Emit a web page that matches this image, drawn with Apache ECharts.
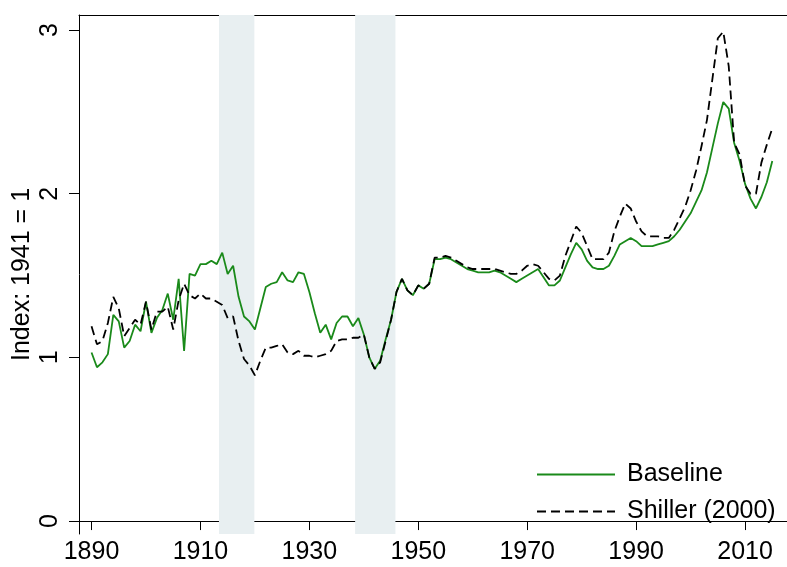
<!DOCTYPE html>
<html>
<head>
<meta charset="utf-8">
<script src="https://cdn.jsdelivr.net/npm/echarts@6/dist/echarts.min.js"></script>
<style>
  html, body { margin: 0; padding: 0; background: #fff; }
  #chart { width: 787px; height: 567px; }
</style>
</head>
<body>
<div id="chart"></div>
<script>
var years = [
  1890, 1891, 1892, 1893, 1894, 1895, 1896, 1897, 1898, 1899,
  1900, 1901, 1902, 1903, 1904, 1905, 1906, 1907, 1908, 1909,
  1910, 1911, 1912, 1913, 1914, 1915, 1916, 1917, 1918, 1919,
  1920, 1921, 1922, 1923, 1924, 1925, 1926, 1927, 1928, 1929,
  1930, 1931, 1932, 1933, 1934, 1935, 1936, 1937, 1938, 1939,
  1940, 1941, 1942, 1943, 1944, 1945, 1946, 1947, 1948, 1949,
  1950, 1951, 1952, 1953, 1954, 1955, 1956, 1957, 1958, 1959,
  1960, 1961, 1962, 1963, 1964, 1965, 1966, 1967, 1968, 1969,
  1970, 1971, 1972, 1973, 1974, 1975, 1976, 1977, 1978, 1979,
  1980, 1981, 1982, 1983, 1984, 1985, 1986, 1987, 1988, 1989,
  1990, 1991, 1992, 1993, 1994, 1995, 1996, 1997, 1998, 1999,
  2000, 2001, 2002, 2003, 2004, 2005, 2006, 2007, 2008, 2009,
  2010, 2011, 2012, 2013, 2014, 2015
];

var baseline = [
  1.03, 0.94, 0.97, 1.02, 1.26, 1.22, 1.06, 1.10, 1.20, 1.16,
  1.34, 1.15, 1.24, 1.29, 1.39, 1.23, 1.48, 1.04, 1.51, 1.50,
  1.57, 1.57, 1.59, 1.57, 1.64, 1.51, 1.56, 1.37, 1.25, 1.22,
  1.17, 1.30, 1.43, 1.45, 1.46, 1.52, 1.47, 1.46, 1.52, 1.51,
  1.40, 1.27, 1.15, 1.20, 1.11, 1.21, 1.25, 1.25, 1.19, 1.24,
  1.14, 1.00, 0.93, 0.98, 1.11, 1.23, 1.40, 1.48, 1.41, 1.38,
  1.44, 1.42, 1.45, 1.60, 1.60, 1.61, 1.60, 1.58, 1.56, 1.54,
  1.53, 1.52, 1.52, 1.52, 1.53, 1.52, 1.50, 1.48, 1.46, 1.48,
  1.50, 1.52, 1.54, 1.49, 1.44, 1.44, 1.47, 1.55, 1.63, 1.70,
  1.66, 1.59, 1.55, 1.54, 1.54, 1.56, 1.62, 1.69, 1.71, 1.73,
  1.71, 1.68, 1.68, 1.68, 1.69, 1.70, 1.71, 1.74, 1.78, 1.83,
  1.88, 1.95, 2.02, 2.13, 2.28, 2.43, 2.56, 2.52, 2.31, 2.20,
  2.06, 1.97, 1.91, 1.98, 2.07, 2.20
];

var shiller = [
  1.19, 1.08, 1.10, 1.21, 1.37, 1.30, 1.13, 1.18, 1.23, 1.20,
  1.34, 1.17, 1.28, 1.28, 1.31, 1.17, 1.35, 1.45, 1.38, 1.36,
  1.39, 1.36, 1.36, 1.34, 1.32, 1.24, 1.25, 1.10, 0.99, 0.95,
  0.89, 0.98, 1.06, 1.06, 1.07, 1.08, 1.03, 1.02, 1.04, 1.01,
  1.01, 1.00, 1.01, 1.02, 1.04, 1.10, 1.11, 1.11, 1.12, 1.12,
  1.14, 1.00, 0.93, 0.97, 1.10, 1.23, 1.40, 1.48, 1.41, 1.38,
  1.44, 1.42, 1.45, 1.61, 1.61, 1.62, 1.61, 1.59, 1.57, 1.55,
  1.54, 1.54, 1.54, 1.54, 1.54, 1.53, 1.52, 1.51, 1.51, 1.53,
  1.56, 1.57, 1.56, 1.52, 1.48, 1.47, 1.50, 1.62, 1.71, 1.80,
  1.76, 1.68, 1.60, 1.60, 1.60, 1.64, 1.77, 1.86, 1.94, 1.91,
  1.83, 1.77, 1.74, 1.74, 1.74, 1.73, 1.73, 1.78, 1.85, 1.92,
  2.02, 2.14, 2.29, 2.45, 2.70, 2.95, 2.99, 2.78, 2.31, 2.24,
  2.05, 2.00, 2.00, 2.19, 2.30, 2.40
];

// shaded war years
var shadeSpans = [[1913.4, 1919.9], [1938.4, 1945.8]];

var xTicks = [1890, 1910, 1930, 1950, 1970, 1990, 2010];
var yTicks = [0, 1, 2, 3];

function pairs(xs, ys) {
  var out = [];
  for (var i = 0; i < xs.length; i++) out.push([xs[i], ys[i]]);
  return out;
}

var font = 'Liberation Sans, Arial, sans-serif';
var chart = echarts.init(document.getElementById('chart'));

var option = {
  animation: false,
  backgroundColor: '#fff',
  grid: { left: 79, right: 0, top: 15, bottom: 33, outerBoundsMode: 'none' },
  legend: {
    orient: 'vertical',
    left: 531,
    top: 457,
    itemWidth: 78,
    itemHeight: 14,
    itemGap: 12,
    itemStyle: { opacity: 0 },
    textStyle: { fontFamily: font, fontSize: 25, color: '#000', padding: [0, 0, 0, 7] },
    data: ['Baseline', 'Shiller (2000)']
  },
  xAxis: [{
    type: 'value',
    min: 1887.7,
    max: 2017.7,
    axisLine: { lineStyle: { color: '#000', width: 1 } },
    axisTick: { length: 9, lineStyle: { color: '#000' }, customValues: xTicks },
    axisLabel: {
      fontFamily: font, fontSize: 25, color: '#000', margin: 6, customValues: xTicks,
      formatter: function (v) { return String(v); }
    },
    splitLine: { show: false }
  }, {
    type: 'value',
    position: 'top',
    min: 1887.7,
    max: 2017.7,
    axisLine: { show: true, lineStyle: { color: '#000', width: 1 } },
    axisTick: { show: false },
    axisLabel: { show: false },
    splitLine: { show: false }
  }],
  yAxis: {
    type: 'value',
    min: -0.079,
    max: 3.092,
    name: 'Index: 1941 = 1',
    nameLocation: 'middle',
    nameRotate: 90,
    nameGap: 44,
    nameMoveOverlap: false,
    nameTextStyle: { fontFamily: font, fontSize: 25, color: '#000' },
    axisLine: { show: true, lineStyle: { color: '#000', width: 1 } },
    axisTick: { show: true, length: 10, lineStyle: { color: '#000' }, customValues: yTicks },
    axisLabel: { fontFamily: font, fontSize: 25, color: '#000', rotate: 90, margin: 16, customValues: yTicks },
    splitLine: { show: false }
  },
  series: [
    {
      name: 'Baseline',
      type: 'line',
      symbol: 'none',
      data: pairs(years, baseline),
      lineStyle: { color: '#1a8a1a', width: 1.8 },
      itemStyle: { color: '#1a8a1a' },
      markArea: {
        silent: true,
        itemStyle: { color: '#e8eff1' },
        data: shadeSpans.map(function (s) { return [{ xAxis: s[0] }, { xAxis: s[1] }]; })
      },
      z: 2
    },
    {
      name: 'Shiller (2000)',
      type: 'line',
      symbol: 'none',
      data: pairs(years, shiller),
      lineStyle: { color: '#000', width: 1.8, type: [9, 5] },
      itemStyle: { color: '#000' },
      z: 3
    }
  ]
};
chart.setOption(option);
</script>
</body>
</html>
